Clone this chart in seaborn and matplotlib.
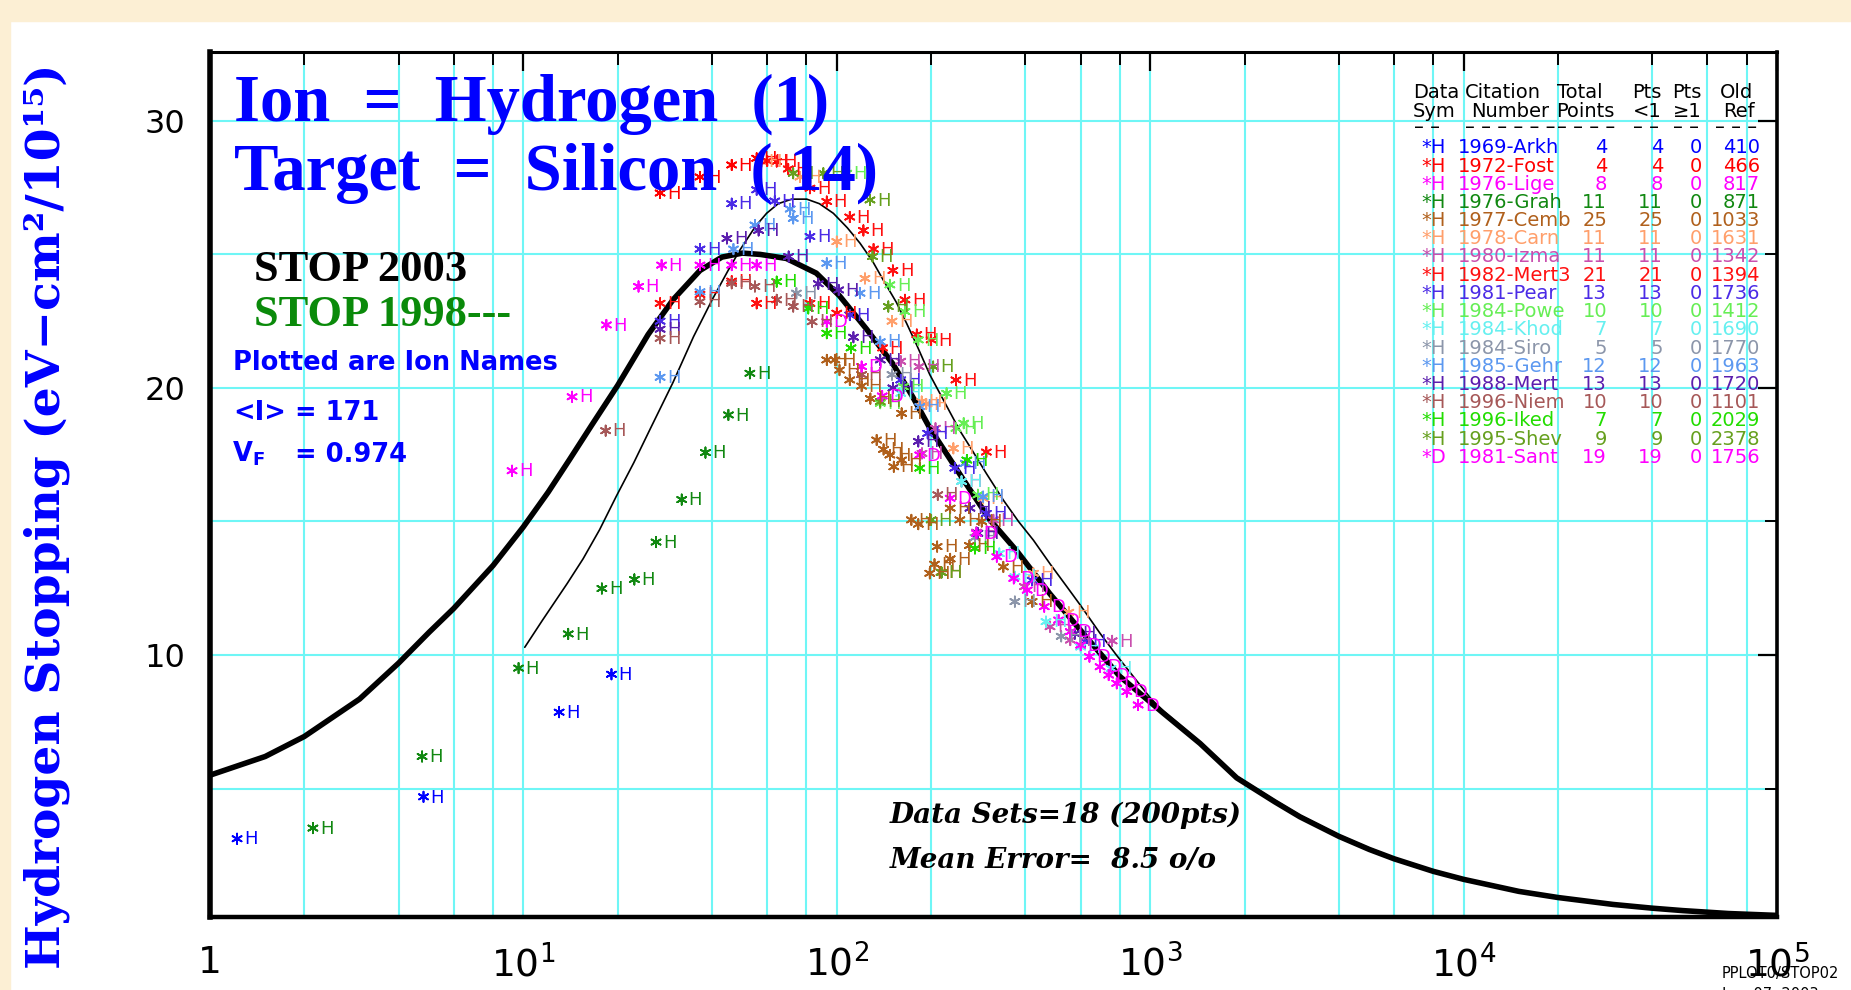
import numpy as np
import pandas as pd
import matplotlib
matplotlib.use("Agg")
import matplotlib.pyplot as plt
from matplotlib.patches import Rectangle
from matplotlib.ticker import FixedLocator, LogLocator, NullFormatter
import seaborn as sns

# ---------------- data ----------------
# STOP 2003 stopping curve (energy in keV, stopping in eV-cm2/1e15 atoms)
stop2003_E = [1, 1.5, 2, 3, 4, 5, 6, 8, 10, 12, 14, 16.5, 20, 25, 30, 36.6, 43, 50, 57, 69,
              86, 102, 124.5, 151, 175, 198, 225, 254, 308, 375, 478, 612, 800, 1102, 1442,
              1888, 2500, 3006, 4000, 5000, 6000, 8000, 10000, 15000, 20000, 30000, 40000,
              50000, 70000, 100000]
stop2003_S = [5.5, 6.2, 6.95, 8.35, 9.7, 10.85, 11.75, 13.35, 14.8, 16.1, 17.3, 18.6, 20.1,
              22.0, 23.3, 24.4, 24.9, 25.05, 25.0, 24.85, 24.3, 23.45, 22.2, 20.9, 19.65,
              18.5, 17.5, 16.55, 15.06, 13.9, 12.3, 10.8, 9.2, 7.82, 6.69, 5.4, 4.5, 3.94,
              3.21, 2.72, 2.37, 1.9, 1.6, 1.15, 0.92, 0.66, 0.52, 0.43, 0.32, 0.25]

# STOP 1998 stopping curve
stop1998_E = [10.1, 11.5, 13.8, 15.5, 17.5, 19.8, 22.5, 25.3, 30, 34.9, 40, 45, 49.1, 55,
              59.7, 65, 71.8, 80.2, 88, 97.5, 108, 118.6, 130, 140.7, 155, 167, 180, 198,
              220, 247, 266, 300, 340, 380, 424, 480, 542, 600, 692, 780, 884, 1000, 1102,
              1442, 1888, 2500, 3006, 4000, 5000, 6000, 8000, 10000, 15000, 20000, 30000,
              40000, 50000, 70000, 100000]
stop1998_S = [10.29, 11.3, 12.68, 13.6, 14.69, 15.95, 17.2, 18.43, 20.2, 21.92, 23.3, 24.4,
              25.17, 26.05, 26.54, 26.9, 27.07, 27.07, 26.9, 26.54, 26.0, 25.42, 24.75,
              24.04, 23.2, 22.42, 21.6, 20.5, 19.5, 18.4, 17.8, 16.8, 15.8, 15.0, 14.3, 13.4,
              12.56, 11.85, 10.81, 10.0, 9.19, 8.4, 7.9, 6.75, 5.46, 4.56, 4.0, 3.26, 2.77,
              2.41, 1.94, 1.64, 1.18, 0.95, 0.69, 0.55, 0.46, 0.35, 0.28]

# measured data sets
arkh_E = [1.22, 4.8, 13.0, 19.1]
arkh_S = [3.12, 4.69, 7.86, 9.28]
fost_E = [27.3, 36.6, 46.2, 55.5]
fost_S = [27.3, 27.9, 28.35, 28.6]
lige_E = [9.2, 14.3, 18.4, 23.3, 27.6, 36.6, 46.2, 55.5]
lige_S = [16.9, 19.67, 22.36, 23.8, 24.6, 24.6, 24.6, 24.6]
grah_E = [2.13, 4.75, 9.65, 13.9, 17.8, 22.6, 26.5, 32.0, 38.1, 45.1, 52.8]
grah_S = [3.52, 6.2, 9.51, 10.79, 12.49, 12.83, 14.23, 15.82, 17.58, 18.99, 20.55]
cemb_E = [92.9, 98.6, 102, 110, 120, 128, 134, 141, 147.7, 152, 161, 161, 173, 182, 198,
          205, 209, 215, 230, 230, 247, 265, 290, 340, 420]
cemb_S = [21.05, 21.05, 20.67, 20.3, 20.07, 19.6, 18.05, 17.7, 17.49, 17.05, 19.05, 17.3,
          15.06, 14.9, 13.06, 13.4, 14.06, 13.1, 15.5, 13.6, 15.06, 14.1, 15.0, 13.3, 12.0]
carn_E = [57.5, 76.3, 100, 123, 150, 186.6, 193, 235.5, 293, 424, 550]
carn_S = [28.48, 27.9, 25.48, 24.1, 22.5, 19.49, 19.4, 17.74, 15.87, 13.06, 11.6]
izma_E = [183, 187, 206.5, 279, 316, 397, 479, 556, 756, 250, 160]
izma_S = [20.8, 17.55, 18.49, 14.6, 15.06, 12.56, 11.06, 10.56, 10.53, 16.5, 21.0]
mert3_E = [27.3, 55.5, 64.3, 70, 82.1, 82.1, 92.9, 110, 121.6, 131, 151, 165, 180, 36.6,
           46.2, 60, 100, 140, 200, 240, 300]
mert3_S = [23.17, 23.17, 28.48, 28.2, 27.48, 23.17, 26.98, 26.4, 25.9, 25.2, 24.4, 23.3,
           22.0, 23.5, 24.0, 28.5, 22.8, 21.5, 21.8, 20.3, 17.6]
pear_E = [36.6, 46.2, 55.5, 63.4, 82.1, 110, 238, 27.3, 160, 195, 300, 420, 620]
pear_S = [25.2, 26.9, 27.42, 27.0, 25.67, 22.73, 17.0, 22.5, 20.3, 18.3, 15.3, 12.8, 10.5]
powe_E = [107.6, 147.7, 165, 182, 224, 254, 163, 240, 282, 137.6]
powe_S = [28.04, 23.86, 22.86, 21.8, 19.8, 18.68, 20.05, 18.49, 16.0, 19.43]
khod_E = [160, 250, 330, 370, 465, 600, 750]
khod_S = [19.8, 16.5, 13.8, 12.93, 11.25, 10.3, 9.5]
siro_E = [74.3, 150, 276, 370, 520]
siro_S = [23.55, 20.5, 14.4, 12.0, 10.7]
gehr_E = [71, 72.6, 54.8, 46.8, 36.6, 27.3, 92.9, 118.6, 137.6, 184, 257, 293]
gehr_S = [26.7, 26.35, 26.1, 25.2, 23.6, 20.4, 24.67, 23.55, 21.73, 19.3, 17.18, 15.93]
mert_E = [27.3, 44.6, 56.3, 70.2, 87.3, 101.4, 113, 137.6, 151, 182, 266, 282, 575]
mert_S = [22.2, 25.6, 25.9, 24.92, 23.9, 23.67, 21.9, 21.05, 20.0, 18.0, 15.5, 14.56, 10.8]
niem_E = [18.3, 27.3, 36.6, 46.2, 54.8, 64.3, 72.6, 83.4, 120, 210]
niem_S = [18.4, 21.86, 23.23, 23.92, 23.8, 23.3, 23.05, 22.48, 20.5, 16.0]
iked_E = [64.3, 81.1, 92.9, 111, 184, 260, 276]
iked_S = [23.98, 22.98, 22.05, 21.5, 17.0, 17.3, 13.99]
shev_E = [72.6, 90.6, 127.6, 130, 146, 203, 200, 216, 137.6]
shev_S = [28.04, 28.04, 27.04, 24.92, 23.05, 20.8, 15.06, 13.09, 19.49]
sant_E = [92.9, 120, 139.6, 184, 230, 279, 324, 367, 405, 459, 510, 556, 600, 640, 692,
          737, 782, 842, 915]
sant_S = [22.48, 20.8, 19.7, 17.49, 15.87, 14.56, 13.68, 12.87, 12.43, 11.81, 11.31, 10.87,
          10.37, 9.94, 9.56, 9.25, 8.94, 8.63, 8.13]

citations = ["1969-Arkh", "1972-Fost", "1976-Lige", "1976-Grah", "1977-Cemb", "1978-Carn",
             "1980-Izma", "1982-Mert3", "1981-Pear", "1984-Powe", "1984-Khod", "1984-Siro",
             "1985-Gehr", "1988-Mert", "1996-Niem", "1996-Iked", "1995-Shev", "1981-Sant"]
ion_symbols = ["H"] * 17 + ["D"]
old_refs = [410, 466, 817, 871, 1033, 1631, 1342, 1394, 1736, 1412, 1690, 1770, 1963,
            1720, 1101, 2029, 2378, 1756]
set_colors = ["#0000FF", "#FF0000", "#FF00FF", "#118811", "#B0601C", "#FF9F6B",
              "#C94FAE", "#FF1010", "#4B2BE6", "#66EE55", "#66F0F0", "#8C96AA",
              "#5C98F0", "#5B1EAE", "#A65858", "#22DD00", "#66A01E", "#FF00FF"]
set_E = [arkh_E, fost_E, lige_E, grah_E, cemb_E, carn_E, izma_E, mert3_E, pear_E, powe_E,
         khod_E, siro_E, gehr_E, mert_E, niem_E, iked_E, shev_E, sant_E]
set_S = [arkh_S, fost_S, lige_S, grah_S, cemb_S, carn_S, izma_S, mert3_S, pear_S, powe_S,
         khod_S, siro_S, gehr_S, mert_S, niem_S, iked_S, shev_S, sant_S]

x_ticks = [1, 10, 100, 1000, 10000, 100000]
x_tick_labels = ["1", r"$10^{1}$", r"$10^{2}$", r"$10^{3}$", r"$10^{4}$", r"$10^{5}$"]
y_ticks = [10, 20, 30]

# ---------------- styling ----------------
sns.set_theme(style="white")
plt.rcParams["font.family"] = ["DejaVu Sans"]
plt.rcParams["mathtext.fontset"] = "dejavusans"

W, H = 1851, 990
fig = plt.figure(figsize=(W / 100, H / 100), dpi=100, facecolor="white")

# cream frame along the top and left edges
fig.patches.append(Rectangle((0, 1 - 21 / H), 1, 21 / H, transform=fig.transFigure,
                             color="#FCEFD4", zorder=0))
fig.patches.append(Rectangle((0, 0), 10 / W, 1, transform=fig.transFigure,
                             color="#FCEFD4", zorder=0))

ax = fig.add_axes([210 / W, 1 - 917 / H, (1777 - 210) / W, (917 - 52) / H])
ax.set_facecolor("white")

CYAN = "#6FF6F6"

df2003 = pd.DataFrame({"E": stop2003_E, "S": stop2003_S})
df1998 = pd.DataFrame({"E": stop1998_E, "S": stop1998_S})
sns.lineplot(data=df2003, x="E", y="S", ax=ax, color="black", lw=4.0, sort=False,
             estimator=None, zorder=3, solid_joinstyle="round")
sns.lineplot(data=df1998, x="E", y="S", ax=ax, color="black", lw=1.2, sort=False,
             estimator=None, zorder=3, solid_joinstyle="round")

frames = []
for i, (e, s) in enumerate(zip(set_E, set_S)):
    frames.append(pd.DataFrame({"E": e, "S": s, "set": citations[i],
                                "sym": ion_symbols[i]}))
pts = pd.concat(frames, ignore_index=True)
palette = dict(zip(citations, set_colors))
sns.scatterplot(data=pts, x="E", y="S", hue="set", palette=palette, marker=(6, 2, 0),
                s=55, linewidth=1.3, legend=False, ax=ax, zorder=4)
for _, row in pts.iterrows():
    ax.annotate(row["sym"], (row["E"], row["S"]), xytext=(5, -0.5),
                textcoords="offset points", ha="left", va="center",
                color=palette[row["set"]], fontsize=13, zorder=5)

ax.set_xscale("log")
ax.set_xlim(1, 1e5)
ax.set_ylim(0.19, 32.58)
ax.xaxis.set_major_locator(FixedLocator(x_ticks))
ax.set_xticklabels(x_tick_labels)
ax.xaxis.set_minor_locator(LogLocator(base=10, subs=(2, 4, 6, 8), numticks=30))
ax.xaxis.set_minor_formatter(NullFormatter())
ax.yaxis.set_major_locator(FixedLocator(y_ticks))
ax.yaxis.set_minor_locator(FixedLocator([5, 15, 25]))
ax.set_xlabel("")
ax.set_ylabel("")

ax.grid(True, which="both", color=CYAN, lw=1.5)
ax.set_axisbelow(True)
ax.tick_params(which="both", direction="in", top=True, right=True, color="black")
ax.tick_params(which="major", length=14, width=1.6)
ax.tick_params(which="minor", length=9, width=1.4)
ax.tick_params(axis="x", which="major", labelsize=27, pad=20, labelcolor="black")
ax.tick_params(axis="y", which="major", labelsize=23, pad=18, labelcolor="black")
for side, lw in {"left": 4.0, "bottom": 3.2, "top": 2.2, "right": 2.6}.items():
    ax.spines[side].set_color("black")
    ax.spines[side].set_linewidth(lw)
    ax.spines[side].set_zorder(6)


def ftext(x, y, s, **kw):
    return fig.text(x / W, 1 - y / H, s, **kw)


BLUE = "#0000FF"
serif_b = dict(family="Liberation Serif", weight="bold")
ftext(234, 121, "Ion  =  Hydrogen  (1)", color=BLUE, size=48, va="baseline", **serif_b)
ftext(234, 190, "Target  =  Silicon  ( 14)", color=BLUE, size=48, va="baseline", **serif_b)
ftext(254, 281, "STOP 2003", color="black", size=32, va="baseline", **serif_b)
ftext(254, 326, "STOP 1998---", color="#0A8A0A", size=32, va="baseline", **serif_b)

sans_b = dict(family="DejaVu Sans", weight="bold", color=BLUE, size=18.5, va="baseline")
ftext(233, 370, "Plotted are Ion Names", **sans_b)
ftext(233, 420, "<I>", **sans_b)
ftext(295, 420, "= 171", **sans_b)
ftext(232, 462, r"V$_{\mathbf{F}}$", **sans_b)
ftext(295, 462, "= 0.974", **sans_b)

ital = dict(family="DejaVu Serif", weight="bold", style="italic", color="black",
            size=20, va="baseline")
ftext(890, 823, "Data Sets=18 (200pts)", **ital)
ftext(890, 868, "Mean Error=  8.5 o/o", **ital)

ftext(47, 516, "Hydrogen Stopping (eV\u2212cm\u00b2/10\u00b9\u2075)", rotation=90,
      ha="center", va="center", color=BLUE, size=34, family="DejaVu Serif",
      weight="bold")

ftext(1722, 978, "PPLOT0/STOP02", color="black", size=10.5, va="baseline")
ftext(1722, 999, "Jun  07  2003", color="black", size=10.5, va="baseline")

# data-set table
tab = dict(family="DejaVu Sans", size=14, va="baseline")
ftext(1413, 98, "Data", color="black", **tab)
ftext(1413, 117, "Sym", color="black", **tab)
ftext(1465, 98, "Citation", color="black", **tab)
ftext(1471, 117, "Number", color="black", **tab)
ftext(1557, 98, "Total", color="black", **tab)
ftext(1556, 117, "Points", color="black", **tab)
ftext(1632, 98, "Pts", color="black", **tab)
ftext(1633, 117, "<1", color="black", **tab)
ftext(1672, 98, "Pts", color="black", **tab)
ftext(1673, 117, "\u22651", color="black", **tab)
ftext(1720, 98, "Old", color="black", **tab)
ftext(1723, 117, "Ref", color="black", **tab)
for x0, n in [(1414, 2), (1465, 6), (1557, 4), (1633, 2), (1673, 2), (1715, 3)]:
    ftext(x0, 133, " ".join(["\u2013"] * n), color="black", **tab)

for i, name in enumerate(citations):
    yb = 153.3 + 18.2 * i
    c = set_colors[i]
    n_pts = len(set_E[i])
    ftext(1421, yb, "*" + ion_symbols[i], color=c, **tab)
    ftext(1458, yb, name, color=c, **tab)
    ftext(1607, yb, str(n_pts), color=c, ha="right", **tab)
    ftext(1663, yb, str(n_pts), color=c, ha="right", **tab)
    ftext(1702, yb, "0", color=c, ha="right", **tab)
    ftext(1760, yb, str(old_refs[i]), color=c, ha="right", **tab)

fig.savefig("out.png", dpi=100, facecolor=fig.get_facecolor())
